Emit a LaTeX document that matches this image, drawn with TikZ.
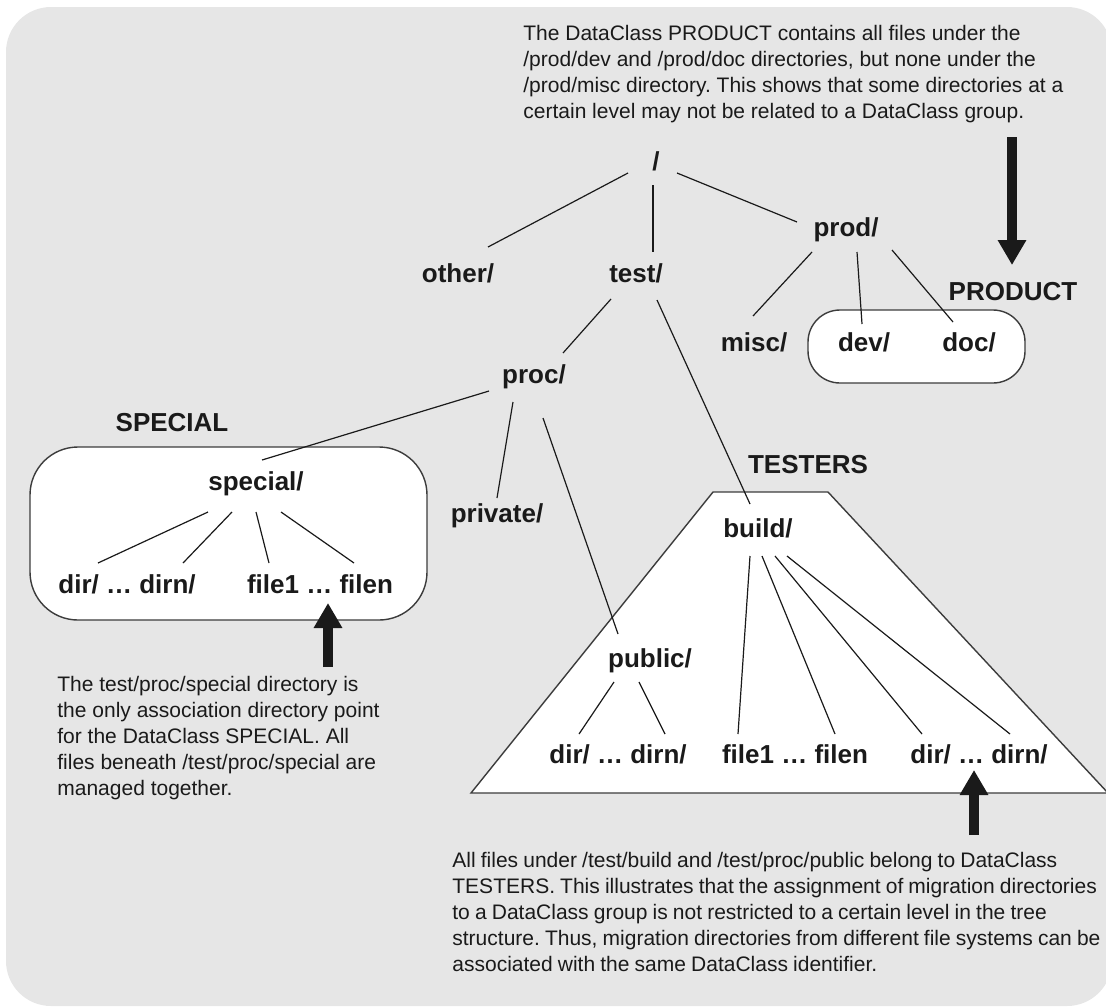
\documentclass[tikz,border=0pt]{standalone}
\usepackage{fontspec}
\setmainfont{Liberation Sans}
\usetikzlibrary{calc,arrows.meta}
\definecolor{panel}{RGB}{230,230,230}
\definecolor{ink}{RGB}{26,26,26}
\frenchspacing

\begin{document}
\begin{tikzpicture}[x=0.5pt,y=-0.5pt,
  dirlab/.style={font=\fontsize{13}{15}\selectfont\bfseries, text=ink, inner sep=0pt, anchor=base},
  note/.style={font=\fontsize{10.5}{13}\selectfont, text=ink, inner sep=0pt, anchor=base west},
  edge/.style={draw=ink, line width=0.6pt},
  group/.style={draw=ink!85, line width=0.7pt, fill=white},
  fatarrow/.style={draw=ink, line width=5pt, -{Triangle[width=13.5pt,length=12.5pt]}}
]
\useasboundingbox (0,0) rectangle (1106,1007);

% grey panel
\fill[panel, rounded corners=22.5pt] (6,7) rectangle (1112,1006);

% DataClass groups
\draw[group, rounded corners=16pt] (808,310) rectangle (1025,383);
\draw[group, rounded corners=24pt] (30,447) rectangle (427,620);
\draw[group] (713,492) -- (828,492) -- (1108,793) -- (471,793) -- cycle;

% group names
\node[dirlab] (PRODUCT) at (1013,300) {PRODUCT};
\node[dirlab] (SPECIAL) at (172,431) {SPECIAL};
\node[dirlab] (TESTERS) at (808,473) {TESTERS};

% directory tree
\node[dirlab] (root)    at (656,170) {/};
\node[dirlab] (other)   at (458,282) {other/};
\node[dirlab] (test)    at (636,282) {test/};
\node[dirlab] (prod)    at (846,236) {prod/};
\node[dirlab] (misc)    at (754,351) {misc/};
\node[dirlab] (dev)     at (864,351) {dev/};
\node[dirlab] (doc)     at (969,351) {doc/};
\node[dirlab] (proc)    at (534,383) {proc/};
\node[dirlab] (special) at (256,490) {special/};
\node[dirlab] (private) at (497,522) {private/};
\node[dirlab] (public)  at (650,667) {public/};
\node[dirlab] (build)   at (758,537) {build/};
\node[dirlab] (sdirs)   at (127,593) {dir/ … dirn/};
\node[dirlab] (sfiles)  at (320,593) {file1 … filen};
\node[dirlab] (pdirs)   at (618,763) {dir/ … dirn/};
\node[dirlab] (bfiles)  at (795,763) {file1 … filen};
\node[dirlab] (bdirs)   at (979,763) {dir/ … dirn/};

% tree edges
\draw[edge] ($(root.base)+(-28,3)$)    -- ($(other.base)+(30,-35)$);
\draw[edge] ($(root.base)+(-3,15)$)    -- ($(test.base)+(17,-30)$);
\draw[edge] ($(root.base)+(21,3)$)     -- ($(prod.base)+(-49,-14)$);
\draw[edge] ($(prod.base)+(-34,16)$)   -- ($(misc.base)+(-1,-35)$);
\draw[edge] ($(prod.base)+(11,16)$)    -- ($(dev.base)+(-2,-27)$);
\draw[edge] ($(prod.base)+(46,14)$)    -- ($(doc.base)+(-16,-29)$);
\draw[edge] ($(test.base)+(-25,17)$)   -- ($(proc.base)+(29,-30)$);
\draw[edge] ($(test.base)+(21,18)$)    -- ($(build.base)+(-8,-33)$);
\draw[edge] ($(proc.base)+(-45,8)$)    -- ($(special.base)+(6,-30)$);
\draw[edge] ($(proc.base)+(-21,19)$)   -- ($(private.base)+(0,-24)$);
\draw[edge] ($(proc.base)+(9,35)$)     -- ($(public.base)+(-32,-33)$);
\draw[edge] ($(special.base)+(-48,22)$) -- ($(sdirs.base)+(-29,-30)$);
\draw[edge] ($(special.base)+(-24,22)$) -- ($(sdirs.base)+(56,-30)$);
\draw[edge] ($(special.base)+(0,22)$)   -- ($(sfiles.base)+(-51,-30)$);
\draw[edge] ($(special.base)+(25,22)$)  -- ($(sfiles.base)+(34,-30)$);
\draw[edge] ($(public.base)+(-36,15)$)  -- ($(pdirs.base)+(-39,-29)$);
\draw[edge] ($(public.base)+(-11,15)$)  -- ($(pdirs.base)+(47,-29)$);
\draw[edge] ($(build.base)+(-8,19)$)    -- ($(bfiles.base)+(-57,-29)$);
\draw[edge] ($(build.base)+(4,19)$)     -- ($(bfiles.base)+(40,-29)$);
\draw[edge] ($(build.base)+(17,19)$)    -- ($(bdirs.base)+(-57,-29)$);
\draw[edge] ($(build.base)+(29,19)$)    -- ($(bdirs.base)+(31,-29)$);

% explanatory notes
\node[note] (prodnote) at (523,40) {\parbox[t]{340pt}{\raggedright
The DataClass PRODUCT contains all files under the\\
/prod/dev and /prod/doc directories, but none under the\\
/prod/misc directory. This shows that some directories at a\\
certain level may not be related to a DataClass group.}};

\node[note] (specnote) at (57,691) {\parbox[t]{340pt}{\raggedright
The test/proc/special directory is\\
the only association directory point\\
for the DataClass SPECIAL. All\\
files beneath /test/proc/special are\\
managed together.}};

\node[note] (testnote) at (452,867) {\parbox[t]{340pt}{\raggedright
\spaceskip=0.88\fontdimen2\font
All files under /test/build and /test/proc/public belong to DataClass\\
TESTERS. This illustrates that the assignment of migration directories\\
to a DataClass group is not restricted to a certain level in the tree\\
structure. Thus, migration directories from different file systems can be\\
associated with the same DataClass identifier.}};

% pointer arrows from the notes to their groups
\coordinate (prodtail) at (1012,137);
\coordinate (prodtip)  at (1012,265);
\coordinate (spectail) at (328,667);
\coordinate (spectip)  at (328,603);
\coordinate (testtail) at (974,835);
\coordinate (testtip)  at (974,770);
\draw[fatarrow] (prodtail) -- (prodtip);
\draw[fatarrow] (spectail) -- (spectip);
\draw[fatarrow] (testtail) -- (testtip);
\end{tikzpicture}
\end{document}
